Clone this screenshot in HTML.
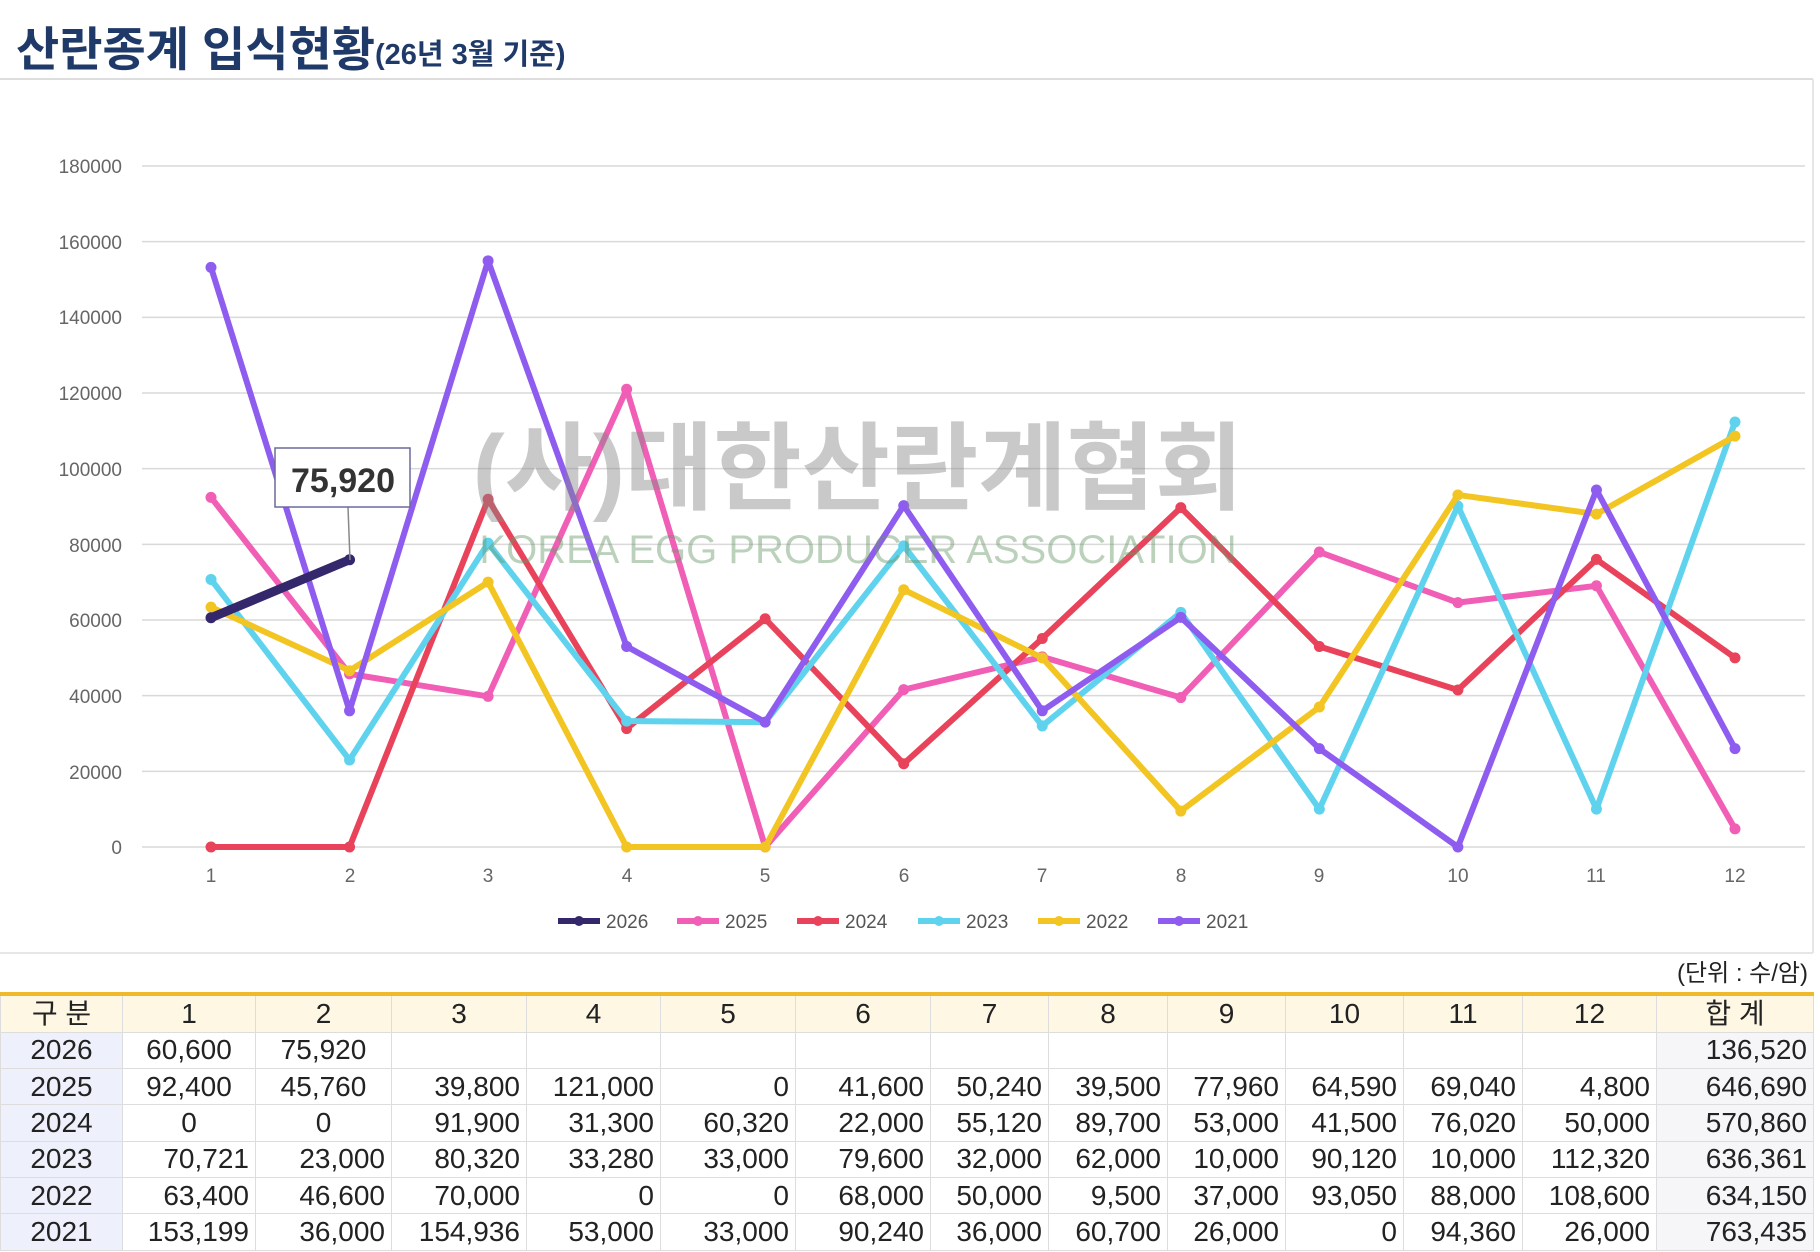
<!DOCTYPE html>
<html><head><meta charset="utf-8">
<style>
html,body{margin:0;padding:0;background:#fff;width:1820px;height:1252px;overflow:hidden;position:relative;font-family:"Liberation Sans","Noto Sans CJK KR",sans-serif}
#tbl{position:absolute;left:0;top:992px;border-collapse:collapse;table-layout:fixed;font-size:28px;color:#222}
#tbl td{height:36.4px;padding:0 6px;border:1.5px solid #ddd;border-top:none;text-align:right;white-space:nowrap;line-height:34px;box-sizing:border-box}
#tbl tr.h td{background:#fdf7e4;text-align:center;border-top:4px solid #f0b92c;height:38px}
#tbl td.y{background:#eef1fb;text-align:center}
#tbl td.c{text-align:center}
#tbl td.t{background:#f6f6f8}
</style></head><body>
<svg width="1820" height="1252" style="position:absolute;left:0;top:0" xmlns="http://www.w3.org/2000/svg">
<text x="16" y="66" font-size="47" font-weight="bold" fill="#1f3a68" font-family="Liberation Sans,Noto Sans CJK KR,sans-serif">산란종계 입식현황<tspan font-size="29" dy="-2">(26년 3월 기준)</tspan></text>
<line x1="0" y1="79" x2="1813" y2="79" stroke="#ddd" stroke-width="2"/>
<line x1="1813" y1="79" x2="1813" y2="953" stroke="#e6e6e6" stroke-width="2"/>
<line x1="0" y1="953" x2="1813" y2="953" stroke="#e6e6e6" stroke-width="2"/>
<g id="grid" stroke="#d9d9d9" stroke-width="1.5"></g>
<g font-size="19" fill="#666" text-anchor="end" font-family="Liberation Sans,sans-serif">
<text x="122" y="173">180000</text><text x="122" y="249">160000</text><text x="122" y="324">140000</text><text x="122" y="400">120000</text><text x="122" y="476">100000</text><text x="122" y="552">80000</text><text x="122" y="627">60000</text><text x="122" y="703">40000</text><text x="122" y="779">20000</text><text x="122" y="854">0</text>
</g>
<g font-size="19" fill="#666" text-anchor="middle" font-family="Liberation Sans,sans-serif">
<text x="211" y="882">1</text><text x="350" y="882">2</text><text x="488" y="882">3</text><text x="627" y="882">4</text><text x="765" y="882">5</text><text x="904" y="882">6</text><text x="1042" y="882">7</text><text x="1181" y="882">8</text><text x="1319" y="882">9</text><text x="1458" y="882">10</text><text x="1596" y="882">11</text><text x="1735" y="882">12</text>
</g>
<g id="lines"></g>
<text x="858" y="502" font-size="96" font-weight="bold" fill="#888" fill-opacity="0.45" text-anchor="middle" font-family="Liberation Sans,Noto Sans CJK KR,sans-serif">(사)대한산란계협회</text>
<text x="858" y="563" font-size="40" fill="#6a9a6a" fill-opacity="0.45" text-anchor="middle" font-family="Liberation Sans,sans-serif">KOREA EGG PRODUCER ASSOCIATION</text>
<line x1="348" y1="507" x2="350" y2="560" stroke="#888" stroke-width="1.5"/>
<rect x="275" y="448" width="135" height="59" fill="#fff" stroke="#6a6a9a" stroke-width="1.5"/>
<text x="343" y="492" font-size="34" font-weight="bold" fill="#333" text-anchor="middle" font-family="Liberation Sans,sans-serif">75,920</text>
<g font-size="19" fill="#555" font-family="Liberation Sans,sans-serif">
<line x1="558" y1="921" x2="600" y2="921" stroke="#35276b" stroke-width="6"/><circle cx="579" cy="921" r="5" fill="#35276b"/><text x="606" y="928">2026</text>
<line x1="677" y1="921" x2="719" y2="921" stroke="#f05fb5" stroke-width="6"/><circle cx="698" cy="921" r="5" fill="#f05fb5"/><text x="725" y="928">2025</text>
<line x1="797" y1="921" x2="839" y2="921" stroke="#e8435a" stroke-width="6"/><circle cx="818" cy="921" r="5" fill="#e8435a"/><text x="845" y="928">2024</text>
<line x1="918" y1="921" x2="960" y2="921" stroke="#5fd3ee" stroke-width="6"/><circle cx="939" cy="921" r="5" fill="#5fd3ee"/><text x="966" y="928">2023</text>
<line x1="1038" y1="921" x2="1080" y2="921" stroke="#f2c523" stroke-width="6"/><circle cx="1059" cy="921" r="5" fill="#f2c523"/><text x="1086" y="928">2022</text>
<line x1="1158" y1="921" x2="1200" y2="921" stroke="#8e5cee" stroke-width="6"/><circle cx="1179" cy="921" r="5" fill="#8e5cee"/><text x="1206" y="928">2021</text>
</g>
<text x="1808" y="981" font-size="24" fill="#222" text-anchor="end" font-family="Liberation Sans,Noto Sans CJK KR,sans-serif">(단위 : 수/암)</text>
</svg>
<table id="tbl">
<colgroup><col style="width:122px"><col style="width:133px"><col style="width:136px"><col style="width:135px"><col style="width:134px"><col style="width:135px"><col style="width:135px"><col style="width:118px"><col style="width:119px"><col style="width:118px"><col style="width:118px"><col style="width:119px"><col style="width:134px"><col style="width:157px"></colgroup>
<tr class="h"><td>구 분</td><td>1</td><td>2</td><td>3</td><td>4</td><td>5</td><td>6</td><td>7</td><td>8</td><td>9</td><td>10</td><td>11</td><td>12</td><td>합 계</td></tr>
<tr><td class="y">2026</td><td class="c">60,600</td><td class="c">75,920</td><td></td><td></td><td></td><td></td><td></td><td></td><td></td><td></td><td></td><td></td><td class="t">136,520</td></tr>
<tr><td class="y">2025</td><td class="c">92,400</td><td class="c">45,760</td><td>39,800</td><td>121,000</td><td>0</td><td>41,600</td><td>50,240</td><td>39,500</td><td>77,960</td><td>64,590</td><td>69,040</td><td>4,800</td><td class="t">646,690</td></tr>
<tr><td class="y">2024</td><td class="c">0</td><td class="c">0</td><td>91,900</td><td>31,300</td><td>60,320</td><td>22,000</td><td>55,120</td><td>89,700</td><td>53,000</td><td>41,500</td><td>76,020</td><td>50,000</td><td class="t">570,860</td></tr>
<tr><td class="y">2023</td><td>70,721</td><td>23,000</td><td>80,320</td><td>33,280</td><td>33,000</td><td>79,600</td><td>32,000</td><td>62,000</td><td>10,000</td><td>90,120</td><td>10,000</td><td>112,320</td><td class="t">636,361</td></tr>
<tr><td class="y">2022</td><td>63,400</td><td>46,600</td><td>70,000</td><td>0</td><td>0</td><td>68,000</td><td>50,000</td><td>9,500</td><td>37,000</td><td>93,050</td><td>88,000</td><td>108,600</td><td class="t">634,150</td></tr>
<tr><td class="y">2021</td><td>153,199</td><td>36,000</td><td>154,936</td><td>53,000</td><td>33,000</td><td>90,240</td><td>36,000</td><td>60,700</td><td>26,000</td><td>0</td><td>94,360</td><td>26,000</td><td class="t">763,435</td></tr>
</table>
<script>
var NS="http://www.w3.org/2000/svg";
function Y(v){return 847-v*681/180000}
function X(i){return 211+i*138.545}
var g=document.getElementById('grid');
for(var k=0;k<=9;k++){var l=document.createElementNS(NS,'line');l.setAttribute('x1',142);l.setAttribute('x2',1805);l.setAttribute('y1',Y(k*20000));l.setAttribute('y2',Y(k*20000));g.appendChild(l);}
var S=[
['#f05fb5',[92400,45760,39800,121000,0,41600,50240,39500,77960,64590,69040,4800]],
['#e8435a',[0,0,91900,31300,60320,22000,55120,89700,53000,41500,76020,50000]],
['#5fd3ee',[70721,23000,80320,33280,33000,79600,32000,62000,10000,90120,10000,112320]],
['#f2c523',[63400,46600,70000,0,0,68000,50000,9500,37000,93050,88000,108600]],
['#8e5cee',[153199,36000,154936,53000,33000,90240,36000,60700,26000,0,94360,26000]],
['#35276b',[60600,75920]]];
var L=document.getElementById('lines');
S.forEach(function(s){var p=s[1].map(function(v,i){return X(i)+','+Y(v)}).join(' ');
var pl=document.createElementNS(NS,'polyline');pl.setAttribute('points',p);pl.setAttribute('fill','none');pl.setAttribute('stroke',s[0]);pl.setAttribute('stroke-width',s[0]=='#35276b'?9:6);pl.setAttribute('stroke-linejoin','round');L.appendChild(pl);
s[1].forEach(function(v,i){var c=document.createElementNS(NS,'circle');c.setAttribute('cx',X(i));c.setAttribute('cy',Y(v));c.setAttribute('r',5.5);c.setAttribute('fill',s[0]);L.appendChild(c);});});
</script>
</body></html>
